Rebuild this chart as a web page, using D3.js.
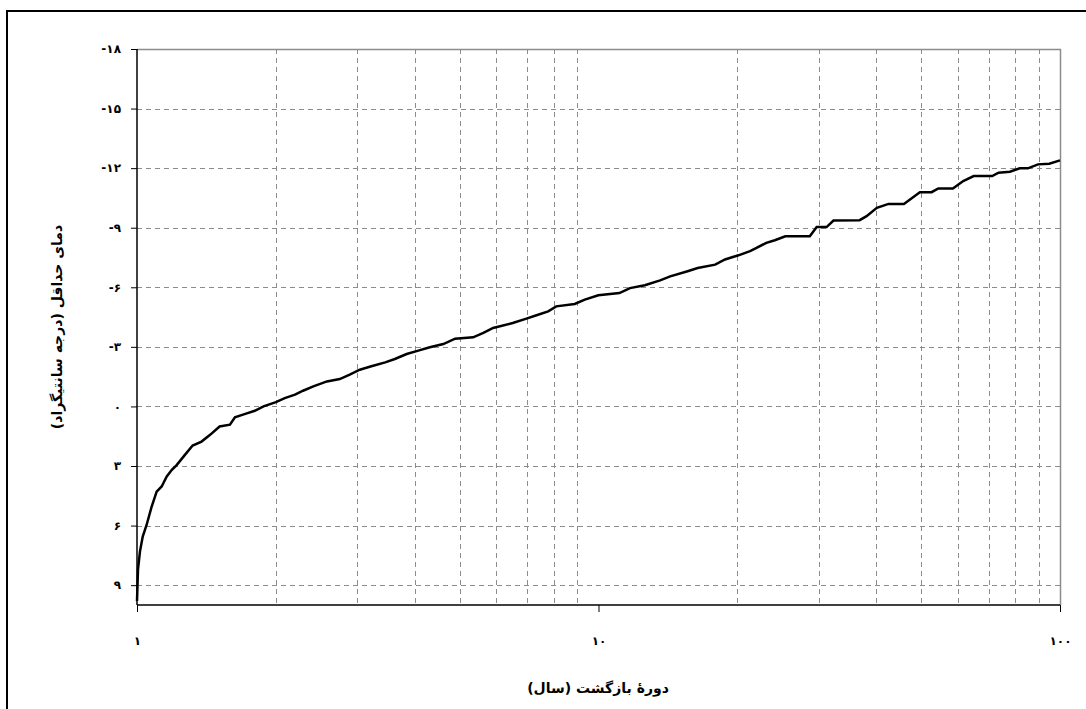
<!DOCTYPE html>
<html>
<head>
<meta charset="utf-8">
<script src="https://cdn.jsdelivr.net/npm/d3@7"></script>
<style>
  body { margin: 0; background: #fff; }
  svg { display: block; }
  .tick text { font-family: "DejaVu Sans", sans-serif; font-weight: bold; font-size: 12px; fill: #000; }
  .title { font-family: "DejaVu Sans", sans-serif; font-weight: bold; font-size: 14px; fill: #000; }
  .grid line { stroke: #8c8c8c; stroke-dasharray: 5,4; stroke-width: 1; }
</style>
</head>
<body>
<svg id="chart"></svg>
<script>
// return period (years) and minimum temperature
var returnPeriod = [1.0, 1.005, 1.015, 1.029, 1.049, 1.076, 1.103, 1.131, 1.16, 1.19,
    1.22, 1.27, 1.32, 1.38, 1.44, 1.51, 1.59, 1.63, 1.71, 1.80,
    1.88, 2.0, 2.09, 2.2, 2.29, 2.41, 2.58, 2.75, 2.89, 3.04,
    3.22, 3.45, 3.62, 3.84, 4.07, 4.31, 4.61, 4.89, 5.35, 5.63,
    5.91, 6.52, 6.98, 7.34, 7.78, 8.1, 8.88, 9.34, 9.99, 11.1,
    11.7, 12.6, 13.6, 14.3, 15.6, 16.4, 17.9, 18.8, 20.1, 21.3,
    22.0, 23.1, 24.1, 25.4, 28.7, 29.7, 31.2, 32.3, 36.8, 38.1,
    40.1, 42.5, 45.9, 49.7, 52.7, 54.5, 58.6, 61.7, 65, 71.3,
    73.6, 77.9, 81.8, 85.2, 89.6, 94.8, 100];
var minTemp = [9.8, 8.2, 7.3, 6.55, 5.97, 5.04, 4.29, 4.03, 3.53, 3.19,
    2.94, 2.44, 1.97, 1.77, 1.43, 1.01, 0.92, 0.55, 0.39, 0.22,
    0.0, -0.22, -0.42, -0.59, -0.79, -1.01, -1.26, -1.38, -1.6, -1.85,
    -2.02, -2.22, -2.39, -2.64, -2.81, -2.98, -3.14, -3.41, -3.48, -3.7,
    -3.95, -4.2, -4.42, -4.59, -4.79, -5.04, -5.16, -5.38, -5.6, -5.71,
    -5.96, -6.1, -6.35, -6.55, -6.81, -6.97, -7.14, -7.4, -7.61, -7.82,
    -7.98, -8.24, -8.37, -8.57, -8.57, -9.03, -9.03, -9.36, -9.38, -9.58,
    -10.0, -10.2, -10.2, -10.79, -10.79, -10.98, -10.98, -11.35, -11.6, -11.6,
    -11.77, -11.82, -11.99, -11.99, -12.19, -12.22, -12.39];

var yTicks = [9, 6, 3, 0, -3, -6, -9, -12, -15, -18];
var yGrid = [9, 6, 3, 0, -3, -6, -9, -12, -15];
var xTicks = [1, 10, 100];
var xGrid = [2, 3, 4, 5, 6, 7, 8, 9, 20, 30, 40, 50, 60, 70, 80, 90];

var xTitle = "دورهٔ بازگشت (سال)";
var yTitle = "دمای حداقل (درجه سانتیگراد)";

var width = 1086, height = 709;
var plotLeft = 137, plotRight = 1060, plotTop = 49, plotBottom = 605;

var persian = "۰۱۲۳۴۵۶۷۸۹";
function toPersian(v) {
    var s = String(Math.abs(v)).replace(/[0-9]/g, function(c) { return persian[+c]; });
    return (v < 0 ? "-" : "") + s;
}

var svg = d3.select("#chart")
    .attr("width", width)
    .attr("height", height);

// outer chart frame
svg.append("rect")
    .attr("x", 7).attr("y", 11)
    .attr("width", 1100).attr("height", 720)
    .attr("fill", "#fff")
    .attr("stroke", "#000")
    .attr("stroke-width", 2);

var x = d3.scaleLog()
    .domain([1, 100])
    .range([plotLeft, plotRight]);
var y = d3.scaleLinear()
    .domain([10, -18])
    .range([plotBottom, plotTop]);

// grid
svg.append("g").attr("class", "grid")
    .selectAll("line")
    .data(yGrid)
    .enter().append("line")
        .attr("x1", plotLeft).attr("x2", plotRight)
        .attr("y1", function(d) { return Math.round(y(d)) + 0.5; })
        .attr("y2", function(d) { return Math.round(y(d)) + 0.5; });

svg.append("g").attr("class", "grid")
    .selectAll("line")
    .data(xGrid)
    .enter().append("line")
        .attr("y1", plotTop).attr("y2", plotBottom)
        .attr("x1", function(d) { return Math.round(x(d)) + 0.5; })
        .attr("x2", function(d) { return Math.round(x(d)) + 0.5; });

// plot area border (top, right)
svg.append("path")
    .attr("d", "M" + plotLeft + "," + (plotTop + 0.5) + "H" + (plotRight + 0.5) + "V" + plotBottom)
    .attr("fill", "none")
    .attr("stroke", "#8c8c8c")
    .attr("stroke-width", 1.5);

// the curve
var line = d3.line()
    .x(function(d) { return x(d[0]); })
    .y(function(d) { return y(d[1]); });

svg.append("path")
    .datum(d3.zip(returnPeriod, minTemp))
    .attr("d", line)
    .attr("fill", "none")
    .attr("stroke", "#000")
    .attr("stroke-width", 2.5)
    .attr("stroke-linejoin", "miter");

// axes
var yAxis = d3.axisLeft(y)
    .tickValues(yTicks)
    .tickFormat(toPersian)
    .tickSize(6)
    .tickPadding(10);
var yg = svg.append("g")
    .attr("transform", "translate(" + plotLeft + ",0)")
    .call(yAxis);
yg.select(".domain").attr("d", "M0," + plotTop + "V" + plotBottom)
    .attr("stroke", "#000").attr("stroke-width", 1.5);

var xAxis = d3.axisBottom(x)
    .tickValues(xTicks)
    .tickFormat(toPersian)
    .tickSize(7)
    .tickPadding(24);
var xg = svg.append("g")
    .attr("transform", "translate(0," + plotBottom + ")")
    .call(xAxis);
xg.select(".domain").attr("d", "M" + plotLeft + ",0H" + plotRight)
    .attr("stroke", "#000").attr("stroke-width", 1.5);

// titles
svg.append("text")
    .attr("class", "title")
    .attr("x", 598).attr("y", 693)
    .attr("text-anchor", "middle")
    .text(xTitle);

svg.append("text")
    .attr("class", "title")
    .attr("transform", "translate(62,327) rotate(-90)")
    .attr("text-anchor", "middle")
    .text(yTitle);
</script>
</body>
</html>
